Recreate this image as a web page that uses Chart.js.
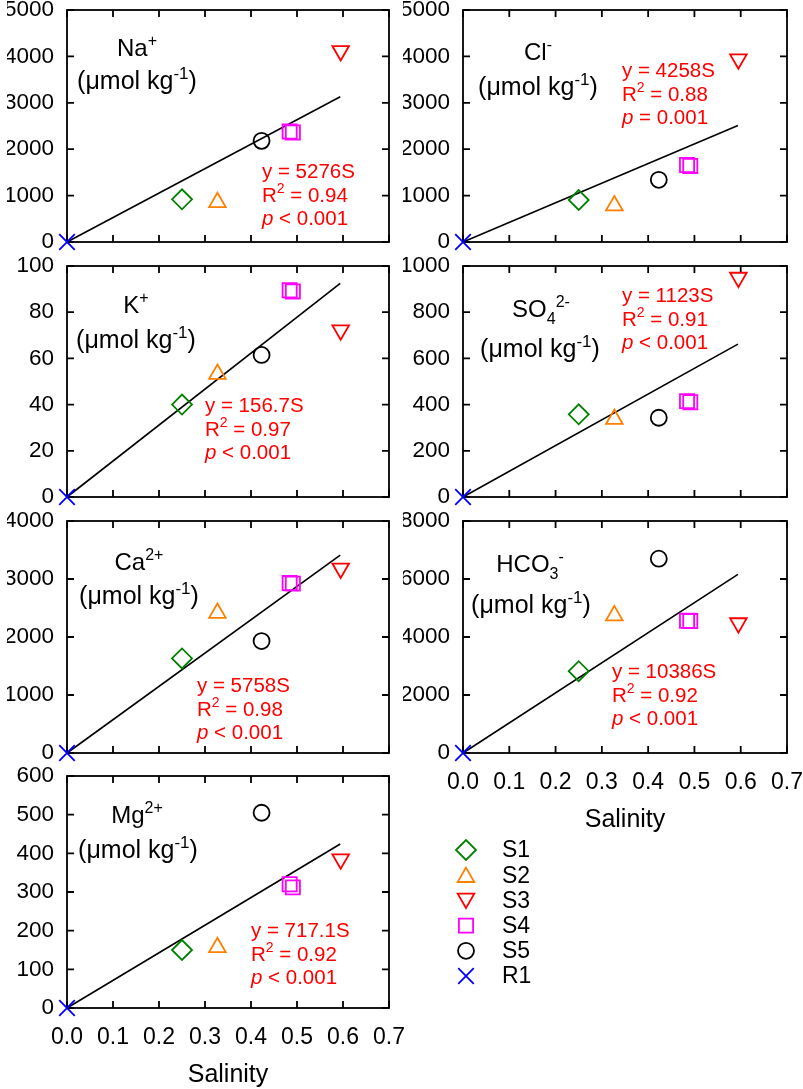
<!DOCTYPE html>
<html>
<head>
<meta charset="utf-8">
<script src="https://cdn.jsdelivr.net/npm/chart.js@4/dist/chart.umd.min.js"></script>
<style>
  html, body { margin: 0; padding: 0; background: #fff; }
  body { width: 803px; height: 1089px; overflow: hidden; position: relative; }
  canvas { position: absolute; left: -40px; top: -40px; }
</style>
</head>
<body>
<script>
// sites in the order S1, S2, S3, S4, S5, R1 (S4 was sampled twice)
var siteLabels = ['S1', 'S2', 'S3', 'S4', 'S5', 'R1'];
var siteSalinity = [[0.25], [0.327], [0.595], [0.484, 0.491], [0.423], [0]];

var naValues   = [[920],  [855],  [4120], [2380, 2360], [2180], [0]];
var clValues   = [[905],  [785],  [3940], [1660, 1640], [1340], [0]];
var kValues    = [[40],   [53.2], [72.2], [89.5, 89],   [61.5], [0]];
var so4Values  = [[358],  [337],  [950],  [415, 410],   [343],  [0]];
var caValues   = [[1630], [2412], [3184], [2930, 2920], [1930], [0]];
var hco3Values = [[2820], [4741], [4481], [4560, 4550], [6700], [0]];
var mgValues   = [[150],  [157],  [385],  [320, 312],   [505],  [0]];

// regression lines, read at both ends
var fitSalinity = [0, 0.594];
var naFit   = [0, 3130];
var clFit   = [0, 2510];
var kFit    = [0, 92.5];
var so4Fit  = [0, 662];
var caFit   = [0, 3410];
var hco3Fit = [0, 6160];
var mgFit   = [0, 424];

var xTickLabels = ['0.0', '0.1', '0.2', '0.3', '0.4', '0.5', '0.6', '0.7'];

var siteStyles = [
  { color: '#008000', pointStyle: 'rectRot',  radius: 10,  rotation: 0 },
  { color: '#ff8000', pointStyle: 'triangle', radius: 9.6, rotation: 0 },
  { color: '#ff0000', pointStyle: 'triangle', radius: 9.6, rotation: 180 },
  { color: '#ff00ff', pointStyle: 'rect',     radius: 10,  rotation: 0 },
  { color: '#000000', pointStyle: 'circle',   radius: 8,   rotation: 0 },
  { color: '#0000ff', pointStyle: 'crossRot', radius: 11,  rotation: 0 }
];

var FONT = '"Liberation Sans", Arial, Helvetica, sans-serif';
var CW = 900, CH = 1200, OFF = 40;
Chart.defaults.font.family = FONT;
Chart.defaults.color = '#000';

function drawRich(ctx, str, x, y, size, align) {
  var parts = [];
  var re = /\^\{([^}]*)\}|_\{([^}]*)\}|\*([^*]*)\*|([^^_*]+)/g;
  var m;
  while ((m = re.exec(str))) {
    if (m[1] !== undefined) parts.push({ t: m[1], k: 'sup' });
    else if (m[2] !== undefined) parts.push({ t: m[2], k: 'sub' });
    else if (m[3] !== undefined) parts.push({ t: m[3], k: 'it' });
    else parts.push({ t: m[4], k: 'n' });
  }
  function fontFor(k) {
    var s = (k === 'sup' || k === 'sub') ? Math.round(size * 0.66) : size;
    return (k === 'it' ? 'italic ' : '') + s + 'px ' + FONT;
  }
  var w = 0;
  parts.forEach(function (p) { ctx.font = fontFor(p.k); p.w = ctx.measureText(p.t).width; w += p.w; });
  var cx = align === 'center' ? x - w / 2 : x;
  ctx.textAlign = 'left';
  ctx.textBaseline = 'alphabetic';
  parts.forEach(function (p) {
    ctx.font = fontFor(p.k);
    var dy = p.k === 'sup' ? -size * 0.42 : (p.k === 'sub' ? size * 0.28 : 0);
    ctx.fillText(p.t, cx, y + dy);
    cx += p.w;
  });
}

// box round the plot with ticks pointing inwards on all four sides
var framePlugin = {
  id: 'frame',
  beforeDatasetsDraw: function (chart) {
    var ctx = chart.ctx, a = chart.chartArea, x = chart.scales.x, y = chart.scales.y;
    var tl = 7;
    ctx.save();
    ctx.strokeStyle = '#000';
    ctx.lineWidth = 1.8;
    ctx.strokeRect(a.left, a.top, a.right - a.left, a.bottom - a.top);
    ctx.beginPath();
    x.ticks.forEach(function (t) {
      var px = x.getPixelForValue(t.value);
      ctx.moveTo(px, a.bottom); ctx.lineTo(px, a.bottom - tl);
      ctx.moveTo(px, a.top); ctx.lineTo(px, a.top + tl);
    });
    y.ticks.forEach(function (t) {
      var py = y.getPixelForValue(t.value);
      ctx.moveTo(a.left, py); ctx.lineTo(a.left + tl, py);
      ctx.moveTo(a.right, py); ctx.lineTo(a.right - tl, py);
    });
    ctx.stroke();
    ctx.restore();
  }
};

var textPlugin = {
  id: 'panelText',
  afterDatasetsDraw: function (chart, args, opts) {
    var ctx = chart.ctx, a = chart.chartArea;
    ctx.save();
    ctx.fillStyle = '#000';
    drawRich(ctx, opts.name, a.left + opts.namePos[0], a.top + opts.namePos[1], 24, 'center');
    drawRich(ctx, '(\u03bcmol kg^{-1})', a.left + opts.unitsPos[0], a.top + opts.unitsPos[1], 25, 'center');
    ctx.fillStyle = '#ff0000';
    opts.stats.forEach(function (line, i) {
      drawRich(ctx, line, a.left + opts.statsPos[0], a.top + opts.statsPos[1] + i * 23.5, 20.5, 'left');
    });
    ctx.restore();
  }
};

var legendPlugin = {
  id: 'siteLegend',
  afterDraw: function (chart, args, opts) {
    if (!opts.show) return;
    var ctx = chart.ctx;
    ctx.save();
    siteLabels.forEach(function (label, i) {
      var st = siteStyles[i];
      var cy = opts.top + OFF + i * 25.2;
      var cx = opts.left + OFF;
      ctx.strokeStyle = st.color;
      ctx.fillStyle = 'rgba(0,0,0,0)';
      ctx.lineWidth = 1.8;
      Chart.helpers.drawPoint(ctx, {
        pointStyle: st.pointStyle, rotation: st.rotation,
        radius: st.radius, borderWidth: 1.8
      }, cx, st.rotation ? cy - 2 : (st.pointStyle === 'triangle' ? cy + 2 : cy));
      ctx.fillStyle = '#000';
      ctx.font = '23px ' + FONT;
      ctx.textAlign = 'left';
      ctx.textBaseline = 'middle';
      ctx.fillText(label, opts.textLeft + OFF, cy + 1);
    });
    ctx.restore();
  }
};

function makePanel(p) {
  var canvas = document.createElement('canvas');
  canvas.width = CW;
  canvas.height = CH;
  canvas.style.width = CW + 'px';
  canvas.style.height = CH + 'px';
  document.body.appendChild(canvas);

  var datasets = siteLabels.map(function (label, i) {
    var st = siteStyles[i];
    return {
      label: label,
      data: siteSalinity[i].map(function (s, j) { return { x: s, y: p.values[i][j] }; }),
      pointStyle: st.pointStyle,
      rotation: st.rotation,
      pointRadius: st.radius,
      pointBorderWidth: 1.8,
      borderColor: st.color,
      backgroundColor: 'rgba(0,0,0,0)',
      clip: false,
      order: 0
    };
  });
  datasets.push({
    label: 'fit',
    data: fitSalinity.map(function (s, j) { return { x: s, y: p.fit[j] }; }),
    showLine: true,
    borderColor: '#000',
    borderWidth: 1.6,
    pointRadius: 0,
    clip: false,
    order: 1
  });

  var xH = p.showX ? 82 : 0;
  new Chart(canvas, {
    type: 'scatter',
    data: { datasets: datasets },
    plugins: [framePlugin, textPlugin, legendPlugin],
    options: {
      responsive: false,
      animation: false,
      events: [],
      layout: {
        padding: {
          left: p.left + OFF - 60,
          right: CW - (p.right + OFF),
          top: p.top + OFF,
          bottom: CH - (p.bottom + OFF) - xH
        }
      },
      scales: {
        x: {
          type: 'linear', min: 0, max: 0.7,
          grid: { display: false, drawTicks: false },
          border: { display: false },
          afterFit: function (s) { s.height = xH; },
          ticks: {
            display: !!p.showX, stepSize: 0.1, padding: 16,
            font: { size: 23 },
            callback: function (v, i) { return xTickLabels[i]; }
          },
          title: {
            display: !!p.showX, text: 'Salinity',
            font: { size: 25 }, padding: 0
          }
        },
        y: {
          type: 'linear', min: 0, max: p.yMax,
          grid: { display: false, drawTicks: false },
          border: { display: false },
          afterFit: function (s) { s.width = 60; },
          ticks: {
            stepSize: p.yStep, padding: 13, font: { size: 22.5 },
            callback: function (v) { return String(v); }
          }
        }
      },
      plugins: {
        legend: { display: false },
        tooltip: { enabled: false },
        panelText: {
          name: p.name, namePos: p.namePos, unitsPos: p.unitsPos,
          stats: p.stats, statsPos: p.statsPos
        },
        siteLegend: { show: !!p.legend, left: 466, top: 850, textLeft: 502 }
      }
    }
  });
}

var LEFT = { left: 67, right: 389 };
var RIGHT = { left: 463, right: 787 };
var ROWS = [{ top: 10, bottom: 242 }, { top: 266, bottom: 497 }, { top: 521, bottom: 753 }, { top: 776, bottom: 1008 }];

function place(col, row, extra) {
  var p = { left: col.left, right: col.right, top: ROWS[row].top, bottom: ROWS[row].bottom };
  for (var k in extra) p[k] = extra[k];
  return p;
}

makePanel(place(LEFT, 0, {
  values: naValues, fit: naFit, yMax: 5000, yStep: 1000,
  name: 'Na^{+}', namePos: [70, 46], unitsPos: [70, 79],
  stats: ['y = 5276S', 'R^{2} = 0.94', '*p* < 0.001'], statsPos: [195, 168]
}));
makePanel(place(RIGHT, 0, {
  values: clValues, fit: clFit, yMax: 5000, yStep: 1000,
  name: 'Cl^{-}', namePos: [75, 50], unitsPos: [75, 85],
  stats: ['y = 4258S', 'R^{2} = 0.88', '*p* = 0.001'], statsPos: [159, 67]
}));
makePanel(place(LEFT, 1, {
  values: kValues, fit: kFit, yMax: 100, yStep: 20,
  name: 'K^{+}', namePos: [69, 47], unitsPos: [69, 82],
  stats: ['y = 156.7S', 'R^{2} = 0.97', '*p* < 0.001'], statsPos: [138, 146]
}));
makePanel(place(RIGHT, 1, {
  values: so4Values, fit: so4Fit, yMax: 1000, yStep: 200,
  name: 'SO_{4}^{2-}', namePos: [78, 51], unitsPos: [77, 91],
  stats: ['y = 1123S', 'R^{2} = 0.91', '*p* < 0.001'], statsPos: [159, 36]
}));
makePanel(place(LEFT, 2, {
  values: caValues, fit: caFit, yMax: 4000, yStep: 1000,
  name: 'Ca^{2+}', namePos: [72, 49], unitsPos: [72, 83],
  stats: ['y = 5758S', 'R^{2} = 0.98', '*p* < 0.001'], statsPos: [130, 171]
}));
makePanel(place(RIGHT, 2, {
  values: hco3Values, fit: hco3Fit, yMax: 8000, yStep: 2000, showX: true, legend: true,
  name: 'HCO_{3}^{-}', namePos: [67, 51], unitsPos: [68, 92],
  stats: ['y = 10386S', 'R^{2} = 0.92', '*p* < 0.001'], statsPos: [149, 157]
}));
makePanel(place(LEFT, 3, {
  values: mgValues, fit: mgFit, yMax: 600, yStep: 100, showX: true,
  name: 'Mg^{2+}', namePos: [70, 47], unitsPos: [71, 82],
  stats: ['y = 717.1S', 'R^{2} = 0.92', '*p* < 0.001'], statsPos: [184, 161]
}));
</script>
</body>
</html>
